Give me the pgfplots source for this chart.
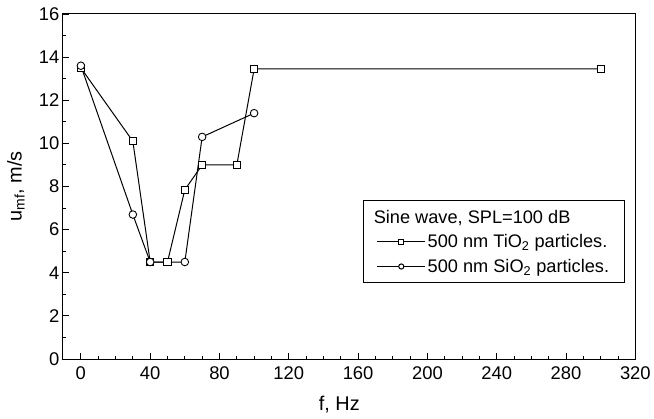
\documentclass[border=0pt]{standalone}
\usepackage{fontspec}
\setmainfont{Liberation Sans}
\usepackage{pgfplots}
\pgfplotsset{compat=1.18}
\begin{document}
\begin{tikzpicture}
\begin{axis}[
  scale only axis,
  width=574bp, height=346bp,
  xmin=-10.4, xmax=320, ymin=0, ymax=16,
  xtick={0,40,...,320}, ytick={0,2,...,16},
  minor x tick num=3, minor y tick num=1,
  tick pos=left, tick align=inside,
  major tick length=6bp, minor tick length=3.5bp,
  /pgf/number format/assume math mode=true,
  ticklabel style={font=\fontsize{18.5}{21}\selectfont},
  xticklabel style={yshift=-4bp},
  label style={font=\fontsize{20}{23}\selectfont},
  xlabel={f, Hz}, ylabel={u\textsubscript{mf}, m/s},
  xlabel style={at={(axis description cs:0.483,-0.133)}, anchor=center},
  ylabel style={at={(axis description cs:-0.082,0.5)}, anchor=center},
  axis line style={line width=1bp},
  every tick/.style={line width=0.9bp, black},
  legend style={at={(0.981,0.4595)}, anchor=north east, draw=black, line width=0.9bp,
    font=\fontsize{18.3}{21}\selectfont, cells={anchor=west}, row sep=6bp,
    inner xsep=13bp, inner ysep=7bp},
  legend image code/.code={
    \draw[line width=0.9bp] (0bp,0bp) -- (48bp,0bp);
    \draw[#1, mark size=2.6bp, mark options={fill=white}] plot coordinates {(24bp,0bp)};
  },
]
\addlegendimage{empty legend}
\addlegendentry{\hspace*{-54bp}Sine wave, SPL=100 dB}
\addplot[black, line width=1bp, mark=square*, mark size=3.6bp, mark options={fill=white, line width=0.9bp}]
coordinates {(0,13.5) (30,10.1) (40,4.5) (50,4.5) (60,7.85) (70,9.0) (90,9.0) (100,13.45) (300,13.45)};
\addlegendentry{500 nm TiO\textsubscript{2} particles.}
\addplot[black, line width=1bp, mark=*, mark size=3.8bp, mark options={fill=white, line width=0.9bp}]
coordinates {(0,13.6) (30,6.7) (40,4.5) (60,4.5) (70,10.3) (100,11.4)};
\addlegendentry{500 nm SiO\textsubscript{2} particles.}
\end{axis}
\useasboundingbox ([shift={(-63bp,-60bp)}]current axis.south west) rectangle ([shift={(17bp,14bp)}]current axis.north east);
\end{tikzpicture}
\end{document}
